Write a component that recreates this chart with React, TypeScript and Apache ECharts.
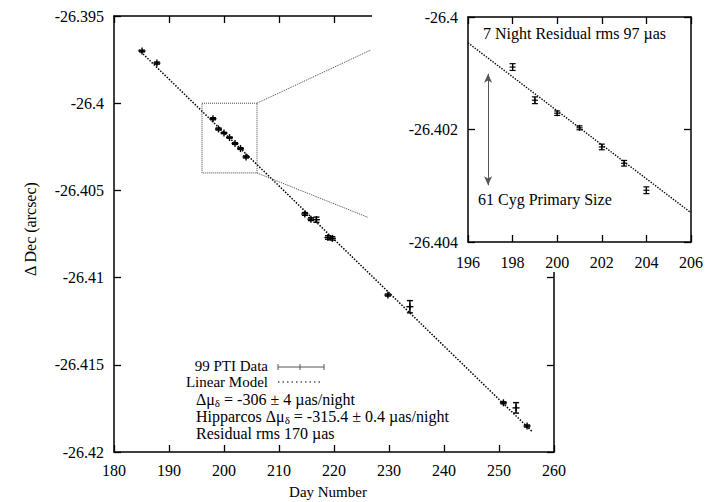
import React, { useEffect, useRef } from "react";
import * as echarts from "echarts";

// ---- main panel data: [day, dec, err] ----
const mainPoints: number[][] = [
  [185.1, -26.39701, 0.00005],
  [187.8, -26.3977, 0.00006],
  [198, -26.40089, 0.00006],
  [199, -26.40148, 0.00006],
  [200, -26.40171, 0.00004],
  [201, -26.40197, 0.000035],
  [202, -26.40231, 0.00005],
  [203, -26.4026, 0.00005],
  [204, -26.40308, 0.00006],
  [214.7, -26.40635, 0.00008],
  [215.8, -26.40665, 0.00008],
  [216.8, -26.40668, 0.00015],
  [218.9, -26.4077, 0.0001],
  [219.7, -26.40775, 0.0001],
  [229.8, -26.411, 0.00006],
  [233.8, -26.41167, 0.00035],
  [250.8, -26.41718, 0.00006],
  [253.1, -26.41747, 0.0003],
  [255.1, -26.41851, 0.00006],
];
const mainModel: number[][] = [
  [184.5, -26.39694],
  [256, -26.41882],
];
const zoomBox: number[][] = [
  [196, -26.4],
  [206, -26.4],
  [206, -26.404],
  [196, -26.404],
  [196, -26.4],
];
const zoomLineUpper: number[][] = [
  [206, -26.4],
  [226.7, -26.39695],
];
const zoomLineLower: number[][] = [
  [206, -26.404],
  [226.2, -26.40655],
];

// ---- inset data ----
const insetPoints: number[][] = [
  [198, -26.40089, 0.00006],
  [199, -26.40148, 0.00006],
  [200, -26.40171, 0.00004],
  [201, -26.40197, 0.000035],
  [202, -26.40231, 0.00005],
  [203, -26.4026, 0.00005],
  [204, -26.40308, 0.00006],
];
const insetModel: number[][] = [
  [196, -26.40046],
  [206, -26.40348],
];
const sizeArrow: number[][] = [
  [196.9, -26.40101],
  [196.9, -26.40299],
];

const mainX = { min: 180, max: 260, interval: 10 };
const mainY = { min: -26.42, max: -26.395, interval: 0.005 };
const insetX = { min: 196, max: 206, interval: 2 };
const insetY = { min: -26.404, max: -26.4, interval: 0.002 };

const FONT = "'Liberation Serif', 'Times New Roman', serif";

const fmtY = (v: number) => String(parseFloat(v.toFixed(3)));

function measure(s: string, size: number): number {
  const c = document.createElement("canvas").getContext("2d");
  if (!c) return s.length * size * 0.5;
  c.font = `${size}px ${FONT}`;
  return c.measureText(s).width;
}

function errRender(cap: number, cross: number, lw: number) {
  return (params: any, api: any) => {
    const x = api.value(0);
    const y = api.value(1);
    const e = api.value(2);
    const c = api.coord([x, y]);
    const t = api.coord([x, y + e]);
    const b = api.coord([x, y - e]);
    const style = { stroke: "#000", lineWidth: lw };
    return {
      type: "group",
      children: [
        { type: "line", shape: { x1: c[0], y1: t[1], x2: c[0], y2: b[1] }, style },
        { type: "line", shape: { x1: c[0] - cap, y1: t[1], x2: c[0] + cap, y2: t[1] }, style },
        { type: "line", shape: { x1: c[0] - cap, y1: b[1], x2: c[0] + cap, y2: b[1] }, style },
        { type: "line", shape: { x1: c[0] - cross, y1: c[1], x2: c[0] + cross, y2: c[1] }, style },
        { type: "line", shape: { x1: c[0], y1: c[1] - cross, x2: c[0], y2: c[1] + cross }, style },
      ],
    };
  };
}

function xAx(grid: number, sc: any, pos: string, labels: boolean, z: number, margin: number) {
  return {
    type: "value",
    gridIndex: grid,
    position: pos,
    min: sc.min,
    max: sc.max,
    interval: sc.interval,
    z,
    axisLine: { show: true, onZero: false, lineStyle: { color: "#000", width: 1.5 } },
    axisTick: { show: true, inside: true, length: 7, lineStyle: { color: "#000", width: 1.3 } },
    axisLabel: { show: labels, margin, fontSize: 16, fontFamily: FONT, color: "#000" },
    splitLine: { show: false },
  };
}
function yAx(grid: number, sc: any, pos: string, labels: boolean, z: number) {
  return {
    type: "value",
    gridIndex: grid,
    position: pos,
    min: sc.min,
    max: sc.max,
    interval: sc.interval,
    z,
    axisLine: { show: true, onZero: false, lineStyle: { color: "#000", width: 1.5 } },
    axisTick: { show: true, inside: true, length: 7, lineStyle: { color: "#000", width: 1.3 } },
    axisLabel: { show: labels, margin: 10, fontSize: 16, fontFamily: FONT, color: "#000", formatter: fmtY },
    splitLine: { show: false },
  };
}

export default function App() {
  const ref = useRef<HTMLDivElement>(null);
  useEffect(() => {
    if (!ref.current) return;
    const chart = echarts.init(ref.current, undefined, { renderer: "svg" });
    const txt = (text: string, x: number, y: number, align: string, extra: any = {}, rot = 0) => ({
      type: "text",
      x,
      y,
      z: 30,
      rotation: rot,
      style: {
        text,
        x: 0,
        y: 0,
        align,
        verticalAlign: "middle",
        fontSize: 16,
        lineHeight: 14,
        fontFamily: FONT,
        fill: "#000",
        ...extra,
      },
    });
    // text with a subscript delta, built from measured pieces
    const subLine = (pre: string, post: string, x: number, y: number) => {
      const w1 = measure(pre, 16);
      const w2 = measure("δ", 11);
      return [
        txt(pre, x, y, "left"),
        txt("δ", x + w1, y + 4, "left", { fontSize: 11, lineHeight: 10 }),
        txt(post, x + w1 + w2, y, "left"),
      ];
    };
    chart.setOption({
      animation: false,
      backgroundColor: "#fff",
      grid: [
        { left: 114, top: 16, width: 440, height: 436 },
        { left: 468, top: 17, width: 227, height: 225 },
      ],
      xAxis: [
        xAx(0, mainX, "bottom", true, 0, 10),
        xAx(0, mainX, "top", false, 0, 10),
        xAx(1, insetX, "bottom", true, 20, 12),
        xAx(1, insetX, "top", false, 20, 12),
      ],
      yAxis: [
        yAx(0, mainY, "left", true, 0),
        yAx(0, mainY, "right", false, 0),
        yAx(1, insetY, "left", true, 20),
        yAx(1, insetY, "right", false, 20),
      ],
      series: [
        {
          type: "line",
          xAxisIndex: 0,
          yAxisIndex: 0,
          data: mainModel,
          symbol: "none",
          lineStyle: { color: "#000", width: 1.5, type: "dotted" },
          z: 2,
        },
        {
          type: "line",
          xAxisIndex: 0,
          yAxisIndex: 0,
          data: zoomBox,
          symbol: "none",
          lineStyle: { color: "#444", width: 1, type: "dotted" },
          z: 2,
        },
        {
          type: "line",
          xAxisIndex: 0,
          yAxisIndex: 0,
          data: zoomLineUpper,
          symbol: "none",
          lineStyle: { color: "#444", width: 1, type: "dotted" },
          z: 2,
        },
        {
          type: "line",
          xAxisIndex: 0,
          yAxisIndex: 0,
          data: zoomLineLower,
          symbol: "none",
          lineStyle: { color: "#444", width: 1, type: "dotted" },
          z: 2,
        },
        {
          type: "custom",
          xAxisIndex: 0,
          yAxisIndex: 0,
          data: mainPoints,
          renderItem: errRender(3, 3.5, 1.4),
          encode: { x: 0, y: 1 },
          z: 3,
        },
        {
          type: "line",
          xAxisIndex: 2,
          yAxisIndex: 2,
          data: insetModel,
          symbol: "none",
          lineStyle: { color: "#000", width: 1.4, type: "dotted" },
          z: 20,
          markLine: {
            silent: true,
            symbol: ["arrow", "arrow"],
            symbolSize: [6, 9],
            label: { show: false },
            lineStyle: { color: "#555", width: 1, type: "solid" },
            data: [[{ coord: sizeArrow[0] }, { coord: sizeArrow[1] }]],
            z: 20,
          },
        },
        {
          type: "custom",
          xAxisIndex: 2,
          yAxisIndex: 2,
          data: insetPoints,
          renderItem: errRender(3, 3, 1.2),
          encode: { x: 0, y: 1 },
          z: 21,
        },
      ],
      graphic: [
        { type: "rect", z: 10, shape: { x: 372, y: 0, width: 334, height: 272 }, style: { fill: "#fff" } },
        txt("Δ Dec (arcsec)", 30, 229, "center", {}, Math.PI / 2) as any,
        txt("Day Number", 328, 492, "center", { fontSize: 15 }),
        txt("99 PTI Data", 268, 366, "right", { fontSize: 15 }),
        txt("Linear Model", 268, 382, "right", { fontSize: 15 }),
        ...subLine("Δμ", " = -306 ± 4 µas/night", 196, 399),
        ...subLine("Hipparcos Δμ", " = -315.4 ± 0.4 µas/night", 196, 416),
        txt("Residual rms 170 µas", 196, 433, "left"),
        // legend samples
        { type: "line", z: 30, shape: { x1: 278, y1: 367, x2: 324, y2: 367 }, style: { stroke: "#555", lineWidth: 1 } },
        { type: "line", z: 30, shape: { x1: 278, y1: 364, x2: 278, y2: 370 }, style: { stroke: "#555", lineWidth: 1 } },
        { type: "line", z: 30, shape: { x1: 324, y1: 364, x2: 324, y2: 370 }, style: { stroke: "#555", lineWidth: 1 } },
        { type: "line", z: 30, shape: { x1: 300, y1: 364, x2: 300, y2: 370 }, style: { stroke: "#555", lineWidth: 1 } },
        {
          type: "line",
          z: 30,
          shape: { x1: 278, y1: 382, x2: 322, y2: 382 },
          style: { stroke: "#000", lineWidth: 1.2, lineDash: [1.5, 3] },
        },
        // inset annotations
        txt("7 Night Residual rms 97 µas", 483, 33, "left"),
        txt("61 Cyg Primary Size", 478, 199, "left"),
      ],
    });
    return () => chart.dispose();
  }, []);
  return <div ref={ref} style={{ position: "absolute", left: 0, top: 0, width: 706, height: 502 }} />;
}
